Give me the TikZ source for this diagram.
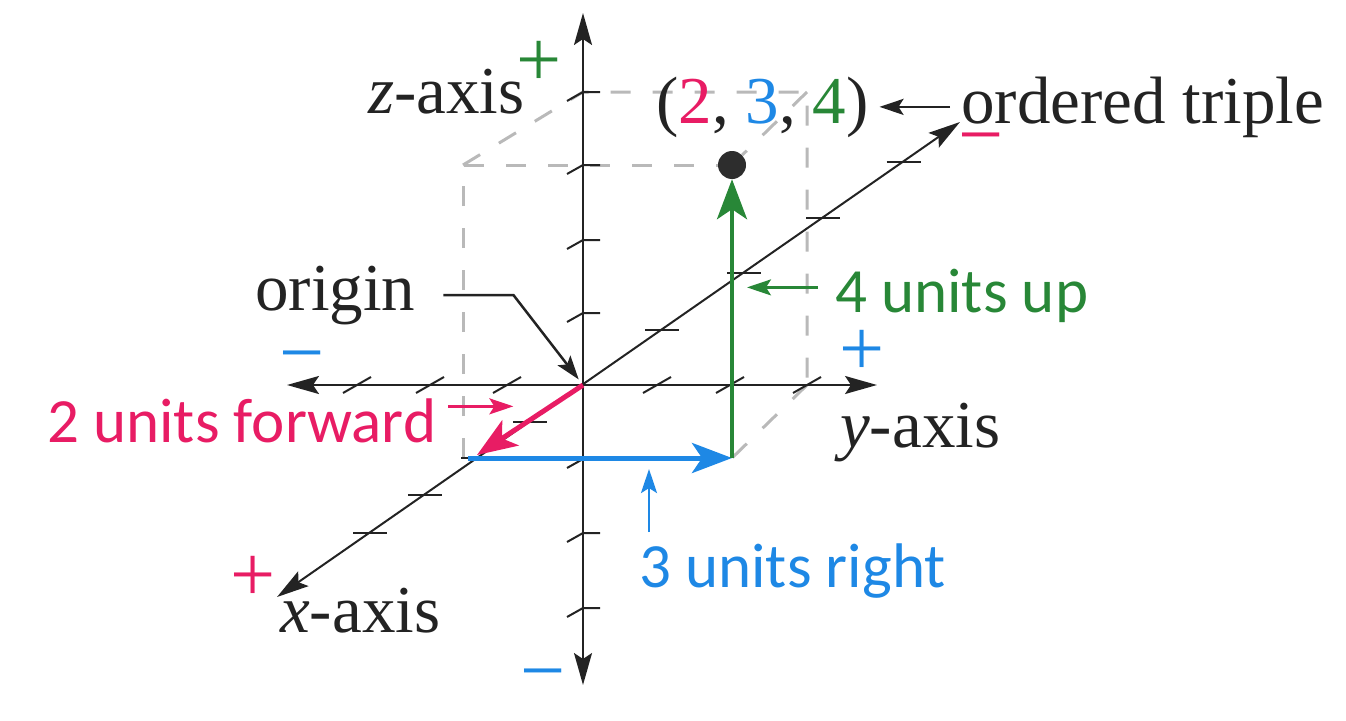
\documentclass[tikz,border=0pt]{standalone}
\usepackage{fontspec}
\setmainfont{Liberation Serif}
\newfontfamily\lblfont{Carlito}
\usetikzlibrary{arrows.meta}
\definecolor{cpink}{RGB}{232,28,100}
\definecolor{cblue}{RGB}{30,136,229}
\definecolor{cgreen}{RGB}{40,135,55}
\definecolor{cgrey}{RGB}{185,185,185}
\definecolor{cink}{RGB}{35,35,35}
\definecolor{cdot}{RGB}{45,45,45}
\tikzset{
  axtip/.tip={Stealth[length=32pt,width=18pt,inset=6pt]},
  bigtip/.tip={Stealth[length=40pt,width=30pt,inset=10pt]},
  ptrtip/.tip={Stealth[length=24pt,width=16pt,inset=5pt]},
  axisline/.style={draw=cink, line width=2pt},
  tickmark/.style={draw=cink, line width=2pt, line join=round},
  dashline/.style={draw=cgrey, line width=3pt, dash pattern=on 20pt off 22pt},
  vec/.style={line width=5pt, -bigtip},
  ptr/.style={line width=2.5pt, -ptrtip},
  serif/.style={inner sep=0pt, anchor=base west, text=cink, font=\fontsize{67}{80}\selectfont},
  sans/.style={inner sep=0pt, anchor=base west, font=\lblfont\fontsize{63}{75}\selectfont},
  sign/.style={inner sep=0pt, anchor=base, font=\fontsize{80}{80}\selectfont},
}
\begin{document}
\begin{tikzpicture}[x=1pt,y=-1pt]
\useasboundingbox (0,0) rectangle (1346,720);
% axes end points
\coordinate (O) at (583,385);
\coordinate (zt) at (583,13);
\coordinate (zb) at (583,685);
\coordinate (yl) at (287,385);
\coordinate (yr) at (877,385);
\coordinate (xl) at (277,597);
\coordinate (xr) at (960,122);
% box corners
\coordinate (A) at (463,165);
\coordinate (B) at (583,92);
\coordinate (C) at (807,92);
\coordinate (D) at (807,385);
\coordinate (E) at (463,458);
\coordinate (F) at (732,458);
\coordinate (bs) at (468,458);
\coordinate (pe) at (477,455);
% the point
\node[circle, fill=cdot, minimum size=28pt, inner sep=0pt] (P) at (732,165) {};
% dashed box
\draw[dashline] (E) -- (A) -- (P);
\draw[dashline] (A) -- (B) -- (C) -- (D);
\draw[dashline] (C) -- (P);
\draw[dashline] (D) -- (F);
% axes
\draw[axisline, axtip-axtip] (yl) -- (yr);
\draw[axisline, axtip-axtip] (zb) -- (zt);
\draw[axisline, axtip-axtip] (xl) -- (xr);
% ticks
\foreach \t in {92,165,240,313,459,533,608}
  \draw[tickmark] (567,\t+9) -- (583,\t) -- (600,\t);
\foreach \t in {357,430,507,657,730,807}
  \draw[tickmark] (\t-14,393) -- (\t+14,377);
\foreach \t in {162,218,273,330,422,458,495,533}
  \draw[tickmark] ({583-(\t-385)/0.6955-17},\t) -- ++(34,0);
% vectors
\draw[vec, cpink] (O) -- (pe);
\draw[vec, cblue] (bs) -- (F);
\draw[vec, cgreen, line width=4pt] (F) -- (P.south);
% labels
\node[serif] (zl) at (368,113) {\textit{z}-axis};
\node[serif] (trip) at (656,123) {(\textcolor{cpink}{2}, \textcolor{cblue}{3}, \textcolor{cgreen}{4})};
\node[serif] (ot) at (961,123) {ordered triple};
\node[serif] (orig) at (255,310) {origin};
\node[serif] (yax) at (840,447) {\textit{y}-axis};
\node[serif] (xax) at (280,632) {\textit{x}-axis};
\node[sans, text=cpink] (fwd) at (47,442) {2 units forward};
\node[sans, text=cgreen] (up) at (835,312) {4 units up};
\node[sans, text=cblue] (rt) at (639,587) {3 units right};
% signs
\node[sign, text=cgreen] (zp) at (539,86) {+};
\node[sign, text=cblue] (zm) at (543,697) {−};
\node[sign, text=cblue] (ym) at (302,379) {−};
\node[sign, text=cblue] (yp) at (862,375) {+};
\node[sign, text=cpink] (xp) at (253,601) {+};
\node[sign, text=cpink] (xm) at (981,161) {−};
% pointers
\draw[ptr, cink, shorten >=11pt] ([xshift=-11pt]ot.west) -- (ot.west -| trip.east);
\draw[ptr, cink, shorten >=7pt] ([xshift=28pt]orig.east) -- ++(70pt,0) -- (O);
\draw[ptr, cpink] ([xshift=12pt,yshift=14pt]fwd.east) -- ++(65pt,0);
\draw[ptr, cgreen] ([xshift=-17pt,yshift=8pt]up.west) -- ++(-71pt,0);
\draw[ptr, cblue] ([xshift=10pt,yshift=11pt]rt.north west) -- ++(0,-63);
\end{tikzpicture}
\end{document}
